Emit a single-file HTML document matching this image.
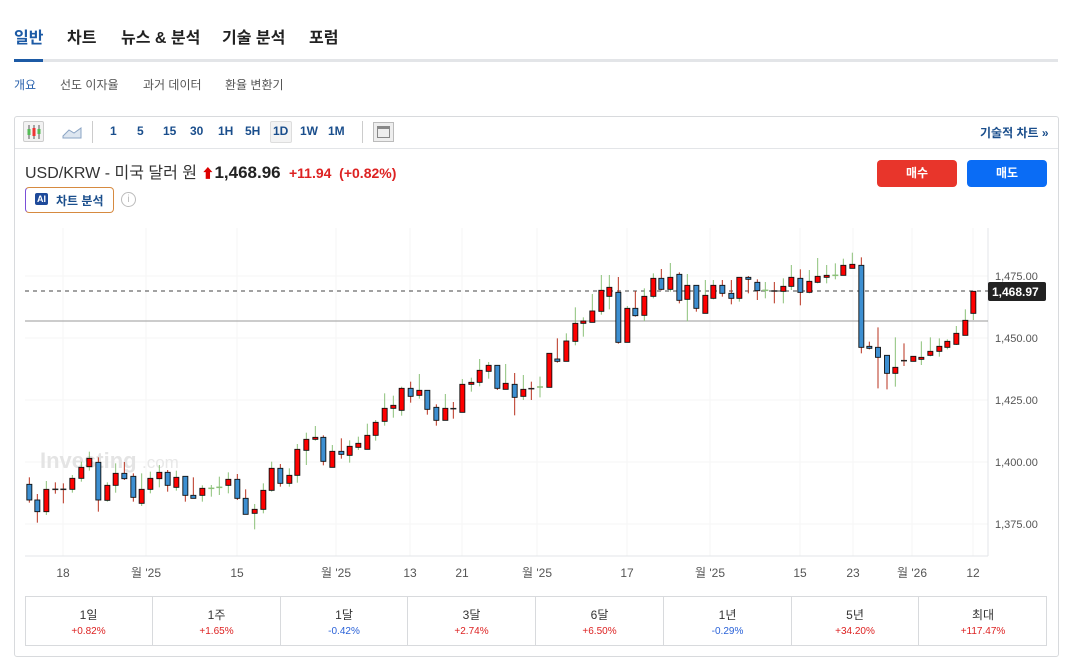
<!DOCTYPE html>
<html><head><meta charset="utf-8">
<style>
*{margin:0;padding:0;box-sizing:border-box}
body{width:1072px;height:661px;background:#fff;font-family:"Liberation Sans","Noto Sans CJK KR",sans-serif;color:#222;position:relative;overflow:hidden}
.abs{position:absolute;white-space:nowrap}
.tab{font-size:16px;font-weight:bold;top:24px;color:#222}
.sub{font-size:12px;top:76px;color:#555}
.tb{font-size:12px;font-weight:bold;color:#1a4e8c;top:124px}
.cell{position:absolute;top:597px;height:48px;border-right:1px solid #d8dadd;text-align:center}
.cell .a{font-size:12px;color:#333;margin-top:9px}
.cell .b{font-size:10px;margin-top:3px}
</style></head><body>
<div class="abs tab" style="left:14px;color:#1c5aa5">일반</div>
<div class="abs tab" style="left:67px">차트</div>
<div class="abs tab" style="left:121px">뉴스 &amp; 분석</div>
<div class="abs tab" style="left:222px">기술 분석</div>
<div class="abs tab" style="left:309px">포럼</div>
<div class="abs" style="left:14px;top:59px;width:1044px;height:3px;background:#e3e5e8"></div>
<div class="abs" style="left:14px;top:59px;width:29px;height:3px;background:#1c5aa5"></div>
<div class="abs sub" style="left:14px;color:#2a62ad">개요</div>
<div class="abs sub" style="left:60px">선도 이자율</div>
<div class="abs sub" style="left:143px">과거 데이터</div>
<div class="abs sub" style="left:225px">환율 변환기</div>

<div class="abs" style="left:14px;top:116px;width:1045px;height:541px;border:1px solid #d8dadd;border-radius:3px"></div>
<div class="abs" style="left:15px;top:148px;width:1043px;height:1px;background:#e3e5e8"></div>
<div class="abs" style="left:23px;top:121px;width:21px;height:21px;border:1px solid #ccc;background:#f2f2f2;border-radius:2px"></div>
<svg class="abs" style="left:25px;top:123px" width="18" height="18"><g stroke="#555"><line x1="4" y1="2" x2="4" y2="16"/><line x1="9" y1="2" x2="9" y2="16"/><line x1="14" y1="2" x2="14" y2="16"/></g><rect x="2.5" y="6" width="3" height="6" fill="#5b5"/><rect x="7.5" y="5" width="3" height="8" fill="#e33"/><rect x="12.5" y="6" width="3" height="5" fill="#5b5"/></svg>
<svg class="abs" style="left:62px;top:125px" width="20" height="14"><path d="M1 11 L7 5 L12 8 L19 3 L19 13 L1 13Z" fill="#dde6f0" stroke="#8aa4c4"/></svg>
<div class="abs" style="left:92px;top:121px;width:1px;height:22px;background:#ccc"></div>
<div class="abs tb" style="left:110px">1</div>
<div class="abs tb" style="left:137px">5</div>
<div class="abs tb" style="left:163px">15</div>
<div class="abs tb" style="left:190px">30</div>
<div class="abs tb" style="left:218px">1H</div>
<div class="abs tb" style="left:245px">5H</div>
<div class="abs" style="left:270px;top:121px;width:22px;height:22px;border:1px solid #ddd;background:#f3f3f3;border-radius:2px"></div>
<div class="abs tb" style="left:273px">1D</div>
<div class="abs tb" style="left:300px">1W</div>
<div class="abs tb" style="left:328px">1M</div>
<div class="abs" style="left:362px;top:121px;width:1px;height:22px;background:#ccc"></div>
<div class="abs" style="left:373px;top:122px;width:21px;height:20px;border:1px solid #bbb;background:#eee"></div>
<div class="abs" style="left:377px;top:126px;width:13px;height:12px;border:1px solid #888;border-top:3px solid #888"></div>
<div class="abs" style="left:980px;top:124px;font-size:12px;font-weight:bold;color:#1a4e8c">기술적 차트 »</div>

<div class="abs" style="left:25px;top:159px;font-size:16px;color:#333">USD/KRW - 미국 달러 원 <span style="color:#d00;font-size:13px">&#11014;</span><b style="font-size:17px;color:#222">1,468.96</b> <span style="color:#d22;font-size:14px;font-weight:bold">&nbsp;+11.94 &nbsp;(+0.82%)</span></div>
<div class="abs" style="left:25px;top:187px;width:89px;height:26px;border:1px solid #d68a40;border-left-color:#7a4fd8;border-radius:4px"></div>
<div class="abs" style="left:35px;top:193px;width:13px;height:12px;background:#1e4a9a;border-radius:2px;color:#fff;font-size:9px;font-weight:bold;text-align:center;line-height:12px">AI</div>
<div class="abs" style="left:56px;top:192px;font-size:12px;font-weight:bold;color:#1a4e8c">차트 분석</div>
<div class="abs" style="left:121px;top:192px;width:15px;height:15px;border:1px solid #bbb;border-radius:50%;color:#bbb;font-size:10px;text-align:center;line-height:13px">i</div>
<div class="abs" style="left:877px;top:160px;width:80px;height:27px;background:#e8352b;border-radius:4px;color:#fff;font-size:12px;font-weight:bold;text-align:center;line-height:27px">매수</div>
<div class="abs" style="left:967px;top:160px;width:80px;height:27px;background:#0a6cf5;border-radius:4px;color:#fff;font-size:12px;font-weight:bold;text-align:center;line-height:27px">매도</div>

<svg class="abs" style="left:0;top:0" width="1072" height="661" id="ch">
<g stroke="#f5f5f5" stroke-width="1">
<line x1="25" y1="276" x2="988" y2="276"/><line x1="25" y1="338" x2="988" y2="338"/><line x1="25" y1="400" x2="988" y2="400"/><line x1="25" y1="462" x2="988" y2="462"/><line x1="25" y1="524" x2="988" y2="524"/>
<line x1="63" y1="228" x2="63" y2="556"/><line x1="146" y1="228" x2="146" y2="556"/><line x1="237" y1="228" x2="237" y2="556"/><line x1="336" y1="228" x2="336" y2="556"/><line x1="410" y1="228" x2="410" y2="556"/><line x1="462" y1="228" x2="462" y2="556"/><line x1="537" y1="228" x2="537" y2="556"/><line x1="627" y1="228" x2="627" y2="556"/><line x1="710" y1="228" x2="710" y2="556"/><line x1="800" y1="228" x2="800" y2="556"/><line x1="853" y1="228" x2="853" y2="556"/><line x1="912" y1="228" x2="912" y2="556"/><line x1="973" y1="228" x2="973" y2="556"/>
</g>
<line x1="25" y1="556" x2="988" y2="556" stroke="#e3e5e8"/>
<line x1="988" y1="228" x2="988" y2="556" stroke="#e3e5e8"/>
<text x="40" y="468" font-size="22" font-weight="bold" fill="#e4e4e4" font-family="Liberation Sans,sans-serif">Investing</text>
<text x="142" y="468" font-size="17" fill="#e8e8e8" font-family="Liberation Sans,sans-serif">.com</text>
<line x1="25" y1="291" x2="988" y2="291" stroke="#444" stroke-dasharray="4,4"/>
<line x1="25" y1="321" x2="988" y2="321" stroke="#999"/>
<g id="cd"></g>
<g font-size="11" fill="#555" font-family="Liberation Sans,sans-serif">
<text x="995" y="280">1,475.00</text><text x="995" y="342">1,450.00</text><text x="995" y="404">1,425.00</text><text x="995" y="466">1,400.00</text><text x="995" y="528">1,375.00</text>
</g>
<rect x="988" y="282" width="58" height="19" fill="#222" rx="2"/>
<text x="992" y="296" font-size="12" font-weight="bold" fill="#fff" font-family="Liberation Sans,sans-serif">1,468.97</text>
<g font-size="12" fill="#555" font-family="Liberation Sans,'Noto Sans CJK KR',sans-serif" text-anchor="middle">
<text x="63" y="577">18</text><text x="146" y="577">월 '25</text><text x="237" y="577">15</text><text x="336" y="577">월 '25</text><text x="410" y="577">13</text><text x="462" y="577">21</text><text x="537" y="577">월 '25</text><text x="627" y="577">17</text><text x="710" y="577">월 '25</text><text x="800" y="577">15</text><text x="853" y="577">23</text><text x="912" y="577">월 '26</text><text x="973" y="577">12</text>
</g>
</svg>

<div class="abs" style="left:25px;top:596px;width:1022px;height:50px;border:1px solid #d8dadd"></div>
<div class="cell" style="left:25px;width:128px"><div class="a">1일</div><div class="b" style="color:#d22">+0.82%</div></div>
<div class="cell" style="left:153px;width:128px"><div class="a">1주</div><div class="b" style="color:#d22">+1.65%</div></div>
<div class="cell" style="left:281px;width:127px"><div class="a">1달</div><div class="b" style="color:#2a62d8">-0.42%</div></div>
<div class="cell" style="left:408px;width:128px"><div class="a">3달</div><div class="b" style="color:#d22">+2.74%</div></div>
<div class="cell" style="left:536px;width:128px"><div class="a">6달</div><div class="b" style="color:#d22">+6.50%</div></div>
<div class="cell" style="left:664px;width:128px"><div class="a">1년</div><div class="b" style="color:#2a62d8">-0.29%</div></div>
<div class="cell" style="left:792px;width:127px"><div class="a">5년</div><div class="b" style="color:#d22">+34.20%</div></div>
<div class="cell" style="left:919px;width:128px;border-right:none"><div class="a">최대</div><div class="b" style="color:#d22">+117.47%</div></div>

<script>
var A=[[28,703,750,682,758,'b'],[52,750,785,732,818,'b'],[79,718,785,693,795,'r'],[106,718,718,697,731,'d'],[130,718,718,700,760,'d'],[157,685,718,675,728,'r'],[184,652,685,635,695,'r'],[208,625,650,605,662,'r'],[235,637,750,622,785,'b'],[262,706,751,697,755,'r'],[287,670,706,640,728,'r'],[313,670,686,636,690,'b'],[340,679,742,670,755,'b'],[365,718,760,670,768,'r'],[391,685,718,665,730,'r'],[418,667,686,645,712,'r'],[443,667,706,660,725,'b'],[469,682,712,662,722,'r'],[496,679,736,679,755,'b'],[520,736,745,682,745,'b'],[547,715,736,706,755,'r'],[574,715,715,705,740,'g'],[598,712,712,680,735,'g'],[625,688,706,667,730,'r'],[652,688,745,672,750,'b'],[677,745,793,718,793,'b'],[704,778,790,762,838,'r'],[730,721,778,700,790,'r'],[755,655,721,635,725,'r'],[781,655,700,642,710,'b'],[808,676,700,655,710,'r'],[832,598,676,582,698,'r'],[859,568,601,548,645,'r'],[886,562,568,528,572,'r'],[910,562,634,556,646,'b'],[937,604,652,585,652,'r'],[964,604,613,565,626,'b'],[989,589,616,571,638,'r'],[1015,580,592,560,600,'r'],[1042,556,598,521,598,'r'],[1067,517,556,510,572,'r'],[1094,475,514,430,527,'r'],[1120,466,475,437,503,'r'],[1145,415,481,410,497,'r'],[1172,415,439,395,458,'b'],[1198,421,436,372,446,'r'],[1222,421,478,421,494,'b'],[1249,472,511,463,527,'b'],[1276,475,511,432,511,'r'],[1300,476,476,456,506,'d'],[1327,403,487,387,487,'r'],[1354,397,403,383,425,'r'],[1379,361,397,327,409,'r'],[1406,346,364,336,386,'r'],[1432,346,415,346,420,'b'],[1457,400,418,342,418,'r'],[1484,403,442,369,496,'b']];
var B=[[70,448,469,405,480,'r'],[94,446,446,425,480,'d'],[120,441,441,410,472,'g'],[148,340,442,340,442,'r'],[172,357,364,295,368,'b'],[199,303,364,280,364,'r'],[226,250,304,202,316,'r'],[250,243,250,232,290,'r'],[277,213,247,162,247,'r'],[304,151,214,105,224,'r'],[328,142,169,105,208,'r'],[355,157,307,111,311,'b'],[382,205,307,198,307,'r'],[406,205,227,153,230,'b'],[433,169,226,145,243,'r'],[460,115,169,100,175,'r'],[484,115,148,87,151,'b'],[511,112,148,69,155,'r'],[538,103,181,97,190,'b'],[562,136,178,102,244,'r'],[589,136,205,136,215,'b'],[616,166,220,120,220,'r'],[640,136,175,120,178,'r'],[667,136,160,120,170,'b'],[694,160,175,120,193,'b'],[718,112,175,112,185,'r'],[745,112,118,108,160,'b'],[772,127,152,118,180,'b'],[796,151,151,126,175,'g'],[823,153,153,126,190,'d'],[850,139,154,115,190,'r'],[874,112,139,75,150,'r'],[901,115,157,88,196,'b'],[928,124,157,90,160,'r'],[953,109,127,54,130,'r'],[980,106,112,75,130,'r'],[1006,106,106,70,118,'g'],[1030,76,106,56,106,'r'],[1057,73,85,38,85,'r'],[1084,76,322,52,340,'b'],[1108,319,325,305,328,'b'],[1134,322,352,262,445,'b'],[1161,346,400,346,448,'b'],[1186,382,400,292,440,'r'],[1212,362,362,310,378,'d'],[1240,349,364,349,364,'r'],[1264,352,358,304,375,'r'],[1291,334,346,292,349,'r'],[1318,319,334,295,350,'r'],[1342,304,322,298,328,'r'],[1369,280,313,258,315,'r'],[1396,241,286,208,286,'r'],[1420,154,220,154,240,'r']];
var s='';
function add(d,ox,oy){d.forEach(function(c){var x=ox+c[0]/3,bt=oy+c[1]/3,bb=oy+c[2]/3,wt=oy+c[3]/3,wb=oy+c[4]/3,t=c[5];
var wc=(t=='r'||t=='g')?'#8cc17a':'#b8321e';
s+='<line x1="'+x+'" y1="'+wt+'" x2="'+x+'" y2="'+wb+'" stroke="'+wc+'" stroke-width="1"/>';
if(t=='d'||t=='g'||bb-bt<1.5){s+='<line x1="'+(x-3)+'" y1="'+bt+'" x2="'+(x+3)+'" y2="'+bt+'" stroke="'+(t=='g'?'#8cc17a':'#222')+'" stroke-width="1.5"/>';}
else s+='<rect x="'+(x-2.5)+'" y="'+bt+'" width="5" height="'+(bb-bt)+'" fill="'+(t=='r'?'#f00':'#3d8fd1')+'" stroke="#111" stroke-width="0.9"/>';});}
add(A,20,250);add(B,500,240);
document.getElementById('cd').innerHTML=s;
</script>
</body></html>
